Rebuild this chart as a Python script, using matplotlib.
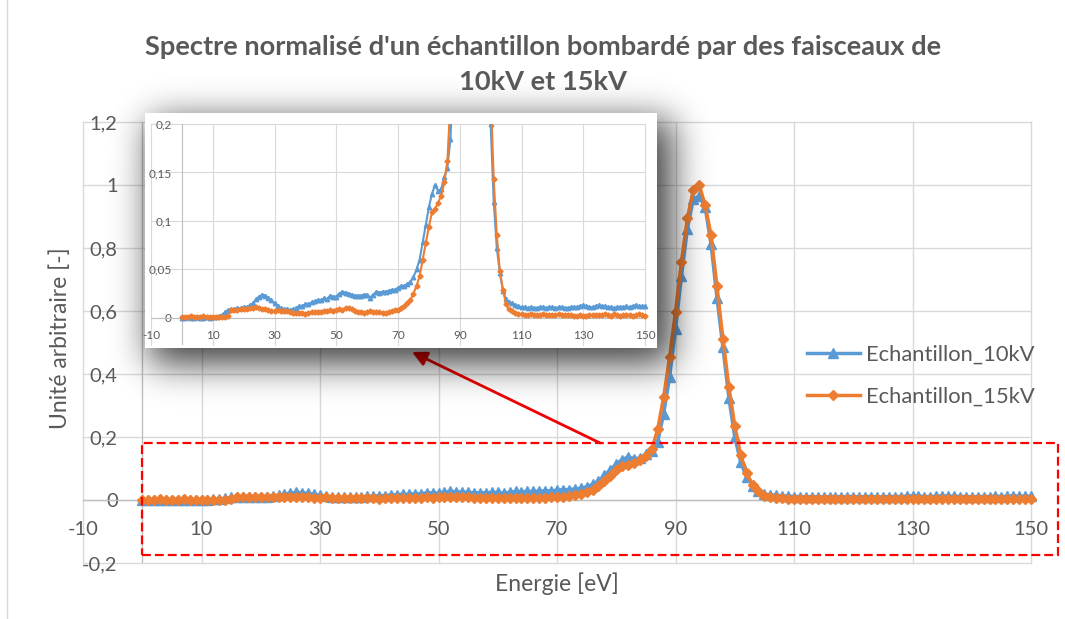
import math
import numpy as np
import matplotlib
matplotlib.use("Agg")
import matplotlib.pyplot as plt
from matplotlib.patches import Rectangle, FancyArrowPatch
from matplotlib.lines import Line2D
from matplotlib.transforms import Bbox, TransformedBbox

W, H = 1065, 619

# energy grid (eV) and normalised intensities, one point per eV
energie = np.arange(0, 151)

echantillon_10kv = [
    0.000, 0.000, 0.001, 0.000, 0.000, 0.001, 0.000, 0.000, 0.001, 0.000,   # 0-9
    0.001, 0.001, 0.002, 0.003, 0.006, 0.008, 0.009, 0.009, 0.010, 0.010,   # 10-19
    0.011, 0.011, 0.013, 0.015, 0.019, 0.022, 0.024, 0.023, 0.021, 0.018,   # 20-29
    0.015, 0.012, 0.010, 0.009, 0.009, 0.008, 0.009, 0.010, 0.012, 0.012,   # 30-39
    0.014, 0.014, 0.016, 0.017, 0.018, 0.018, 0.020, 0.019, 0.023, 0.022,   # 40-49
    0.022, 0.025, 0.027, 0.026, 0.025, 0.024, 0.023, 0.023, 0.023, 0.024,   # 50-59
    0.024, 0.021, 0.024, 0.027, 0.026, 0.027, 0.027, 0.028, 0.029, 0.029,   # 60-69
    0.031, 0.033, 0.033, 0.035, 0.037, 0.042, 0.050, 0.060, 0.078, 0.096,   # 70-79
    0.114, 0.128, 0.137, 0.131, 0.133, 0.145, 0.155, 0.185, 0.274, 0.390,   # 80-89
    0.543, 0.710, 0.860, 0.955, 0.965, 0.930, 0.812, 0.642, 0.485, 0.325,   # 90-99
    0.200, 0.120, 0.072, 0.046, 0.028, 0.019, 0.016, 0.015, 0.013, 0.012,   # 100-109
    0.011, 0.011, 0.010, 0.011, 0.010, 0.010, 0.011, 0.011, 0.010, 0.011,   # 110-119
    0.011, 0.010, 0.011, 0.011, 0.010, 0.010, 0.011, 0.011, 0.011, 0.012,   # 120-129
    0.013, 0.012, 0.011, 0.011, 0.012, 0.013, 0.012, 0.012, 0.011, 0.011,   # 130-139
    0.010, 0.011, 0.011, 0.011, 0.012, 0.011, 0.012, 0.013, 0.012, 0.012,   # 140-149
    0.012,                                                                  # 150
]

echantillon_15kv = [
    0.001, 0.001, 0.001, 0.002, 0.001, 0.001, 0.001, 0.002, 0.001, 0.001,   # 0-9
    0.001, 0.001, 0.001, 0.001, 0.001, 0.002, 0.008, 0.008, 0.008, 0.009,   # 10-19
    0.009, 0.009, 0.010, 0.010, 0.011, 0.010, 0.009, 0.009, 0.008, 0.007,   # 20-29
    0.007, 0.008, 0.007, 0.007, 0.007, 0.006, 0.005, 0.005, 0.005, 0.005,   # 30-39
    0.004, 0.005, 0.006, 0.006, 0.006, 0.006, 0.007, 0.007, 0.008, 0.007,   # 40-49
    0.008, 0.009, 0.008, 0.010, 0.010, 0.009, 0.007, 0.006, 0.006, 0.005,   # 50-59
    0.006, 0.007, 0.006, 0.006, 0.006, 0.005, 0.005, 0.006, 0.007, 0.008,   # 60-69
    0.008, 0.010, 0.012, 0.015, 0.018, 0.025, 0.033, 0.043, 0.060, 0.077,   # 70-79
    0.094, 0.109, 0.112, 0.119, 0.126, 0.140, 0.162, 0.225, 0.327, 0.453,   # 80-89
    0.597, 0.756, 0.894, 0.984, 1.000, 0.936, 0.841, 0.679, 0.512, 0.360,   # 90-99
    0.236, 0.143, 0.085, 0.048, 0.029, 0.014, 0.009, 0.007, 0.005, 0.004,   # 100-109
    0.004, 0.003, 0.003, 0.004, 0.003, 0.003, 0.003, 0.004, 0.003, 0.003,   # 110-119
    0.003, 0.003, 0.004, 0.003, 0.003, 0.003, 0.003, 0.002, 0.002, 0.003,   # 120-129
    0.002, 0.002, 0.003, 0.003, 0.003, 0.003, 0.003, 0.004, 0.003, 0.002,   # 130-139
    0.004, 0.003, 0.002, 0.003, 0.003, 0.003, 0.002, 0.003, 0.004, 0.003,   # 140-149
    0.002,                                                                  # 150
]

series_names = ["Echantillon_10kV", "Echantillon_15kV"]

x_ticks = [-10, 10, 30, 50, 70, 90, 110, 130, 150]
y_ticks_main = [-0.2, 0, 0.2, 0.4, 0.6, 0.8, 1.0, 1.2]
y_labels_main = ["-0,2", "0", "0,2", "0,4", "0,6", "0,8", "1", "1,2"]
y_ticks_zoom = [0, 0.05, 0.1, 0.15, 0.2]
y_labels_zoom = ["0", "0,05", "0,1", "0,15", "0,2"]

BLUE = "#5B9BD5"
ORANGE = "#ED7D31"
TXT = "#595959"
GRID = "#D9D9D9"
AXIS = "#BFBFBF"

plt.rcParams["font.family"] = ["Lato", "DejaVu Sans"]


def px_rect(x0, y0, x1, y1):
    """Figure-fraction rect from a pixel box measured from the top-left."""
    return [x0 / W, 1 - y1 / H, (x1 - x0) / W, (y1 - y0) / H]


def fx(x):
    return x / W


def fy(y):
    return 1 - y / H


def style_axes(ax, ylim, yticks, ylabels, fs, xpad, ypad, lw):
    ax.set_xlim(-10, 150)
    ax.set_ylim(ylim)
    ax.set_xticks(x_ticks)
    ax.set_xticklabels([str(t) for t in x_ticks])
    ax.set_yticks(yticks)
    ax.set_yticklabels(ylabels)
    ax.tick_params(length=0, labelsize=fs, labelcolor=TXT)
    ax.tick_params(axis="x", pad=xpad)
    ax.tick_params(axis="y", pad=ypad)
    ax.grid(True, color=GRID, lw=lw)
    ax.set_axisbelow(True)
    for line in ax.get_xgridlines() + ax.get_ygridlines():
        line.set_clip_on(False)
    for s in ax.spines.values():
        s.set_visible(False)
    ax.axhline(0, color=AXIS, lw=lw, zorder=1)
    ax.axvline(0, color=AXIS, lw=lw, zorder=1)


def soft_box(n, a, b, sigma):
    """1D profile of a box [a, b] blurred by a gaussian."""
    x = np.arange(n) + 0.5
    erf = np.vectorize(math.erf)
    k = sigma * math.sqrt(2)
    return 0.5 * (erf((x - a) / k) - erf((x - b) / k))


fig = plt.figure(figsize=(W / 100, H / 100), dpi=100)

# left edge of the chart area border
fig.add_artist(Line2D([fx(7), fx(7)], [0, 1], transform=fig.transFigure,
                      color=GRID, lw=1.0, zorder=0))

# --- main chart ---
ax = fig.add_axes(px_rect(83, 122, 1031, 563), zorder=1)
style_axes(ax, (-0.2, 1.2), y_ticks_main, y_labels_main, 14.5, -30, -25, 1.0)
l1, = ax.plot(energie, echantillon_10kv, color=BLUE, lw=2.5, marker="^",
              ms=7, clip_on=False, zorder=3)
l2, = ax.plot(energie, echantillon_15kv, color=ORANGE, lw=2.5, marker="D",
              ms=5.5, clip_on=False, zorder=4)

fig.text(543 / W, fy(47), "Spectre normalisé d'un échantillon bombardé par des faisceaux de",
         ha="center", va="center", fontsize=19.6, weight="bold", color=TXT)
fig.text(543 / W, fy(82), "10kV et 15kV",
         ha="center", va="center", fontsize=19.6, weight="bold", color=TXT)
fig.text(fx(60), fy(338), "Unité arbitraire [-]", rotation=90,
         ha="center", va="center", fontsize=16.5, color=TXT)
fig.text(fx(557), fy(584), "Energie [eV]",
         ha="center", va="center", fontsize=16.5, color=TXT)

fig.legend([l1, l2], series_names, loc="center left",
           bbox_to_anchor=(fx(807), fy(376)), frameon=False, fontsize=15.8,
           labelcolor=TXT, handlelength=2.4, handletextpad=0.3,
           labelspacing=1.0, borderpad=0, borderaxespad=0)

# dashed zoom region and arrow towards the inset
fig.add_artist(Rectangle((fx(142), fy(555)), (1058 - 142) / W, (555 - 443) / H,
                         transform=fig.transFigure, fill=False, ec="#FF0000",
                         lw=1.6, ls=(0, (4, 1.8)), zorder=1.5))
fig.add_artist(FancyArrowPatch((fx(600), fy(443)), (fx(412), fy(352)),
                               transform=fig.transFigure, arrowstyle="-|>",
                               mutation_scale=22, color="#F00000", lw=2,
                               shrinkA=0, shrinkB=0, zorder=1.5))

# soft drop shadow behind the inset
sx = soft_box(W, 150, 672, 18)
sy = soft_box(H, 120, 364, 18)
shadow = np.zeros((H, W, 4))
shadow[..., 3] = np.outer(sy, sx) * 0.75
fig.figimage(shadow, 0, 0, origin="upper", zorder=2)

# --- inset: zoom on 0-0.2 ---
box = fig.add_axes(px_rect(145, 113, 657, 348), zorder=3)
box.set_facecolor("white")
box.set_xticks([])
box.set_yticks([])
for s in box.spines.values():
    s.set_visible(False)

ins = fig.add_axes(px_rect(151, 124, 645, 345), zorder=4)
ins.patch.set_alpha(0)
style_axes(ins, (-0.028, 0.2), y_ticks_zoom, y_labels_zoom, 8.5, -11, -15, 0.8)
clip = TransformedBbox(Bbox([[-14, -0.028], [154, 0.2]]), ins.transData)
for vals, col, mk, ms in [(echantillon_10kv, BLUE, "^", 3.2),
                          (echantillon_15kv, ORANGE, "D", 2.6)]:
    ln, = ins.plot(energie, vals, color=col, lw=1.5, marker=mk, ms=ms, zorder=3)
    ln.set_clip_box(clip)

fig.savefig("out.png", dpi=100)
